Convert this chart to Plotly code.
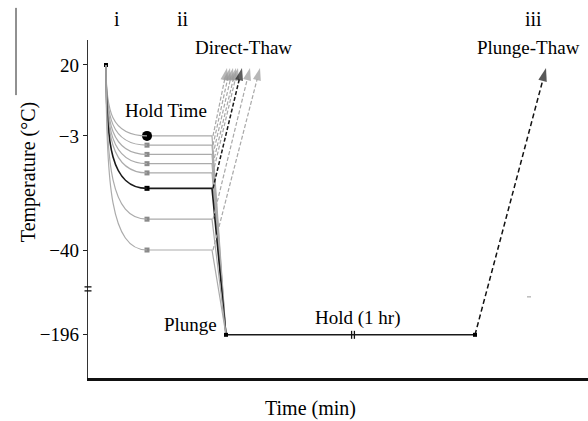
import plotly.graph_objects as go

# ---------------- data (schematic units) ----------------
# hold temperatures (°C) for the direct-thaw series
hold_temps = [-3, -6, -9, -12, -15, -20, -30, -40]
hold_colors = ["#ababab"] * 5 + ["#1a1a1a"] + ["#ababab"] * 2
# time (arbitrary schematic units) at which each direct-thaw arrow ends
direct_thaw_end_times = [139, 142, 145, 148, 150, 154, 162, 172]

start_temp = 20          # °C, starting temperature
ln2_temp = -196          # °C, liquid nitrogen plunge
thaw_temp = 19           # °C, end of thaw arrows

t_start = 18             # start of cooling
t_hold = 59              # hold reached
t_plunge_start = 124     # end of hold / start of plunge
t_plunge = 138           # sample in LN2
t_ln2_end = 387          # end of 1 hr hold
t_thaw_end = 458         # end of plunge-thaw
t_break = 265            # time-axis break on the hold line

y_tick_temps = [20, -3, -40, -196]
y_tick_text = ["20", "\u22123", "\u221240", "\u2212196"]

# broken temperature axis: -196 is drawn just below the -40 region
BREAK_POS = -67.5


def ypos(t):
    return t if t >= -40 else BREAK_POS


SERIF = "Liberation Serif, Times New Roman, serif"

fig = go.Figure()
shapes = []

# cooling curves (cubic Bezier from start to hold point)
for temp, col in zip(hold_temps, hold_colors):
    y0, yl = ypos(start_temp), ypos(temp)
    x0, xh = t_start, t_hold
    p1y = y0 + 0.65 * (yl - y0)
    p2x = x0 + 0.12 * (xh - x0)
    path = f"M {x0},{y0} C {x0},{p1y} {p2x},{yl} {xh},{yl}"
    shapes.append(dict(type="path", path=path, xref="x", yref="y",
                       line=dict(color=col, width=1.6 if col == "#1a1a1a" else 1.2)))

# hold segments and plunge lines
for temp, col in zip(hold_temps, hold_colors):
    black = col == "#1a1a1a"
    fig.add_trace(go.Scatter(
        x=[t_hold, t_plunge_start, t_plunge],
        y=[ypos(temp), ypos(temp), ypos(ln2_temp)],
        mode="lines", line=dict(color=col, width=1.6 if black else 1.2),
        hoverinfo="skip", showlegend=False))

# direct-thaw dashed arrows
for temp, col, te in zip(hold_temps, hold_colors, direct_thaw_end_times):
    black = col == "#1a1a1a"
    fig.add_trace(go.Scatter(
        x=[t_plunge_start + 1, te], y=[ypos(temp), ypos(thaw_temp)],
        mode="lines+markers",
        line=dict(color=col if black else "#a8a8a8", width=1.5 if black else 1.2,
                  dash="4px,2px"),
        marker=dict(symbol=["circle", "arrow"], size=[0, 13], angleref="previous",
                    color=col if black else "#999999", line=dict(width=0)),
        hoverinfo="skip", showlegend=False))

# LN2 hold (1 hr)
fig.add_trace(go.Scatter(
    x=[t_plunge, t_ln2_end], y=[ypos(ln2_temp), ypos(ln2_temp)],
    mode="lines", line=dict(color="#1a1a1a", width=1.5),
    hoverinfo="skip", showlegend=False))

# plunge-thaw dashed arrow
fig.add_trace(go.Scatter(
    x=[t_ln2_end, t_thaw_end], y=[ypos(ln2_temp), ypos(thaw_temp)],
    mode="lines+markers",
    line=dict(color="#111111", width=1.5, dash="5px,3px"),
    marker=dict(symbol=["circle", "arrow"], size=[0, 14], angleref="previous",
                color="#111111", line=dict(width=0)),
    hoverinfo="skip", showlegend=False))

# hold markers
fig.add_trace(go.Scatter(
    x=[t_hold] * len(hold_temps), y=[ypos(t) for t in hold_temps],
    mode="markers",
    marker=dict(symbol=["circle"] + ["square"] * (len(hold_temps) - 1),
                size=[10] + [5] * (len(hold_temps) - 1),
                color=["#000000"] + ["#8a8a8a" if c != "#1a1a1a" else "#000000"
                                     for c in hold_colors[1:]],
                opacity=1, line=dict(width=0)),
    hoverinfo="skip", showlegend=False))

# key points: start, plunge, end of LN2 hold
fig.add_trace(go.Scatter(
    x=[t_start, t_plunge, t_ln2_end],
    y=[ypos(start_temp), ypos(ln2_temp), ypos(ln2_temp)],
    mode="markers", marker=dict(symbol="square", size=4, color="#000000", opacity=1),
    hoverinfo="skip", showlegend=False))

# axis break marks on y axis ("=")
for dy in (-0.65, 0.65):
    shapes.append(dict(type="line", xref="paper", yref="y",
                       x0=-0.007, x1=0.007, y0=-52.6 + dy, y1=-52.6 + dy,
                       line=dict(color="#111111", width=1.3)))
# time break marks on the hold line ("||")
for dx in (-1.4, 1.4):
    shapes.append(dict(type="line", xref="x", yref="y",
                       x0=t_break + dx, x1=t_break + dx,
                       y0=ypos(ln2_temp) - 1.3, y1=ypos(ln2_temp) + 1.3,
                       line=dict(color="#111111", width=1.3)))
# stray marks present in the original figure
shapes.append(dict(type="line", xref="paper", yref="paper",
                   x0=-0.144, x1=-0.144, y0=0.837, y1=1.095,
                   line=dict(color="#222222", width=1)))
shapes.append(dict(type="line", xref="x", yref="y",
                   x0=439, x1=443, y0=-55.2, y1=-55.2,
                   line=dict(color="#9a9a9a", width=1)))

ann_font = dict(family=SERIF, size=19, color="#000000")
annotations = [
    dict(x=155, y=25.8, text="Direct-Thaw"),
    dict(x=78, y=5.1, text="Hold Time"),
    dict(x=102, y=-64.3, text="Plunge"),
    dict(x=269, y=-62.1, text="Hold (1 hr)"),
    dict(x=440, y=25.8, text="Plunge-Thaw"),
]
for a in annotations:
    a.update(xref="x", yref="y", showarrow=False, font=ann_font,
             xanchor="center", yanchor="middle")

# stage labels above the plot area
for xs, lab in ((29, "i"), (95, "ii"), (445, "iii")):
    annotations.append(dict(xref="x", yref="paper", x=xs, y=1.062, text=lab,
                            showarrow=False, xanchor="center", yanchor="middle",
                            font=dict(family=SERIF, size=20, color="#000000")))

annotations.append(dict(xref="paper", yref="paper", x=-0.12, y=0.609,
                        text="Temperature (\u00b0C)", textangle=-90,
                        showarrow=False, xanchor="center", yanchor="middle",
                        font=dict(family=SERIF, size=20, color="#000000")))
annotations.append(dict(xref="paper", yref="paper", x=0.444, y=-0.089,
                        text="Time (min)", showarrow=False,
                        xanchor="center", yanchor="middle",
                        font=dict(family=SERIF, size=20, color="#000000")))

fig.update_layout(
    width=588, height=421,
    margin=dict(l=88, r=0, t=40, b=43),
    paper_bgcolor="white", plot_bgcolor="white",
    shapes=shapes, annotations=annotations,
    xaxis=dict(range=[0, 500], showgrid=False, zeroline=False,
               showticklabels=False, ticks="", showline=True,
               linecolor="#111111", linewidth=2.5, fixedrange=True),
    yaxis=dict(range=[-81.5, 28.1], showgrid=False, zeroline=False,
               tickvals=[ypos(t) for t in y_tick_temps], ticktext=y_tick_text,
               ticks="outside", ticklen=4, tickwidth=1, tickcolor="#222222",
               tickfont=dict(family=SERIF, size=19, color="#000000"),
               showline=True, linecolor="#333333", linewidth=1.3,
               fixedrange=True),
    showlegend=False,
)

fig.write_html("out.html")
